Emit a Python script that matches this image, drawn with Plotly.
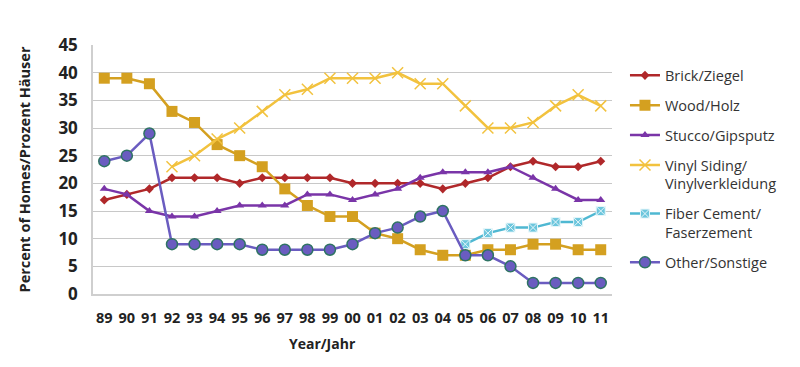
import plotly.graph_objects as go

years = ["89","90","91","92","93","94","95","96","97","98","99","00","01","02","03","04","05","06","07","08","09","10","11"]

brick = [17,18,19,21,21,21,20,21,21,21,21,20,20,20,20,19,20,21,23,24,23,23,24]
wood = [39,39,38,33,31,27,25,23,19,16,14,14,11,10,8,7,7,8,8,9,9,8,8]
stucco = [19,18,15,14,14,15,16,16,16,18,18,17,18,19,21,22,22,22,23,21,19,17,17]
vinyl = [None,None,None,23,25,28,30,33,36,37,39,39,39,40,38,38,34,30,30,31,34,36,34]
fiber = [None]*16 + [9,11,12,12,13,13,15]
other = [24,25,29,9,9,9,9,8,8,8,8,9,11,12,14,15,7,7,5,2,2,2,2]

names = ["Brick/Ziegel", "Wood/Holz", "Stucco/Gipsputz",
         "Vinyl Siding/<br>Vinylverkleidung", "Fiber Cement/<br>Faserzement", "Other/Sonstige"]

fig = go.Figure()

def add(vals, name, color, symbol, size, lcolor=None, lwidth=0, mcolor=None):
    fig.add_trace(go.Scatter(
        x=years, y=vals, name=name, mode="lines+markers",
        legendgroup=name,
        line=dict(color=color, width=2.5),
        marker=dict(symbol=symbol, size=size, color=mcolor or color,
                    line=dict(color=lcolor or color, width=lwidth)),
        connectgaps=False,
    ))

add(brick, names[0], "#B0282A", "diamond", 7)
add(wood, names[1], "#D4A020", "square", 11)
add(stucco, names[2], "#7A35A8", "triangle-up", 8)
add(vinyl, names[3], "#F2C23E", "x-thin", 11, lcolor="#F2C23E", lwidth=1.5)
add(fiber, names[4], "#4FB8D2", "square-x", 9, lcolor="#E6F6FA", lwidth=1, mcolor="#6CC6DD")
add(other, names[5], "#6A5CC0", "circle", 11, lcolor="#2E7363", lwidth=1.5)

fig.update_layout(
    width=800, height=367,
    margin=dict(l=93, r=188, t=45, b=73),
    paper_bgcolor="white", plot_bgcolor="white",
    font=dict(family="Open Sans, Noto Sans, sans-serif", color="#222222"),
    showlegend=True,
    legend=dict(x=1.025, y=0.942, xanchor="left", yanchor="top",
                font=dict(size=14.5, color="#333333"), valign="top",
                tracegroupgap=8, itemwidth=30),
    xaxis=dict(type="category", range=[-0.5, 22.5], automargin=False,
               tickfont=dict(size=14.5, color="#222222", weight="bold"),
               ticklabelstandoff=10,
               showgrid=False, showline=True, linecolor="#CFCFCF", linewidth=1.5,
               ticks=""),
    yaxis=dict(range=[0, 45], dtick=5, automargin=False,
               tickfont=dict(size=17, color="#222222", weight="bold"),
               ticklabelstandoff=10,
               title=dict(text="<b>Percent of Homes/Prozent Häuser</b>", font=dict(size=14.5), standoff=24),
               showgrid=True, gridcolor="#C8C8C8", gridwidth=1.2,
               showline=True, linecolor="#CFCFCF", linewidth=1.5,
               zeroline=False, ticks=""),
    annotations=[dict(text="<b>Year/Jahr</b>", xref="paper", yref="paper",
                      x=0.443, y=0, yshift=-49, xanchor="center", yanchor="middle",
                      showarrow=False, font=dict(size=14, color="#222222"))],
)

fig.write_html("out.html", config={"displayModeBar": False},
               post_script="document.body.style.margin='0';")
